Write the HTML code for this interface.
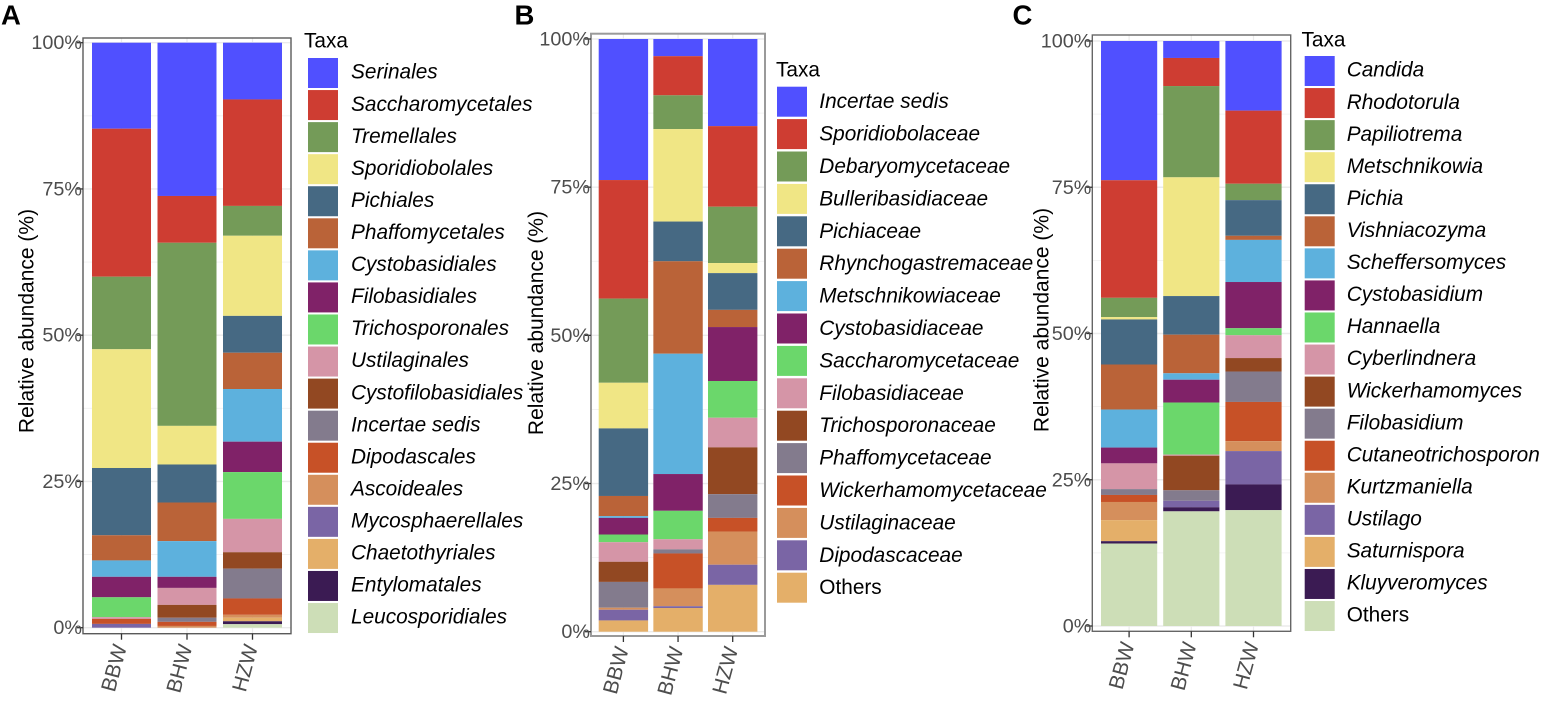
<!DOCTYPE html>
<html lang="en">
<head>
<meta charset="utf-8">
<title>Relative abundance of fungal taxa</title>
<style>
html,body{margin:0;padding:0;background:#fff;}
body{width:1547px;height:701px;overflow:hidden;}
svg{display:block;font-family:"Liberation Sans",Arial,sans-serif;filter:blur(0.35px);}
</style>
</head>
<body>
<svg id="figure" xmlns="http://www.w3.org/2000/svg" width="1547" height="701" viewBox="0 0 1547 701"></svg>
<script>
// ---- shared chart data ----
const categories = ['BBW', 'BHW', 'HZW'];
const yTickValues = [0, 25, 50, 75, 100];
const yTickLabels = ['0%', '25%', '50%', '75%', '100%'];
const yMinorValues = [12.5, 37.5, 62.5, 87.5];
const palette = ['#5050FF', '#CE3D32', '#749B58', '#F0E685', '#466983', '#BA6338', '#5DB1DD', '#802268', '#6BD76B', '#D595A7', '#924822', '#837B8D', '#C75127', '#D58F5C', '#7A65A5', '#E4AF69', '#3B1B53', '#CDDEB7'];

// ---- panel A (order) ----
const taxaA = ['Serinales', 'Saccharomycetales', 'Tremellales', 'Sporidiobolales', 'Pichiales', 'Phaffomycetales', 'Cystobasidiales', 'Filobasidiales', 'Trichosporonales', 'Ustilaginales', 'Cystofilobasidiales', 'Incertae sedis', 'Dipodascales', 'Ascoideales', 'Mycosphaerellales', 'Chaetothyriales', 'Entylomatales', 'Leucosporidiales'];
const valuesABBW = [14.7, 25.3, 12.4, 20.3, 11.5, 4.3, 2.8, 3.5, 3.4, 0.3, 0, 0, 0.85, 0, 0.65, 0, 0, 0];
const valuesABHW = [26.2, 8.0, 31.3, 6.6, 6.5, 6.6, 6.1, 1.9, 0, 2.9, 2.2, 0.7, 0.7, 0.3, 0, 0, 0, 0];
const valuesAHZW = [9.7, 18.2, 5.1, 13.7, 6.3, 6.2, 9.0, 5.2, 8.0, 5.7, 2.8, 5.1, 2.8, 0.5, 0, 0.6, 0.5, 0.6];

// ---- panel B (family) ----
const taxaB = ['Incertae sedis', 'Sporidiobolaceae', 'Debaryomycetaceae', 'Bulleribasidiaceae', 'Pichiaceae', 'Rhynchogastremaceae', 'Metschnikowiaceae', 'Cystobasidiaceae', 'Saccharomycetaceae', 'Filobasidiaceae', 'Trichosporonaceae', 'Phaffomycetaceae', 'Wickerhamomycetaceae', 'Ustilaginaceae', 'Dipodascaceae', 'Others'];
const valuesBBBW = [23.8, 20.0, 14.2, 7.7, 11.4, 3.4, 0.3, 2.8, 1.3, 3.3, 3.4, 4.35, 0, 0.35, 1.8, 1.9];
const valuesBBHW = [2.9, 6.6, 5.7, 15.6, 6.7, 15.6, 20.3, 6.2, 4.8, 1.7, 0, 0.7, 5.9, 3.0, 0.3, 4.0];
const valuesBHZW = [14.7, 13.6, 9.5, 1.7, 6.2, 2.9, 0, 9.1, 6.2, 5.0, 7.9, 4.0, 2.3, 5.6, 3.4, 7.9];

// ---- panel C (genus) ----
const taxaC = ['Candida', 'Rhodotorula', 'Papiliotrema', 'Metschnikowia', 'Pichia', 'Vishniacozyma', 'Scheffersomyces', 'Cystobasidium', 'Hannaella', 'Cyberlindnera', 'Wickerhamomyces', 'Filobasidium', 'Cutaneotrichosporon', 'Kurtzmaniella', 'Ustilago', 'Saturnispora', 'Kluyveromyces', 'Others'];
const valuesCBBW = [23.8, 20.1, 3.3, 0.4, 7.7, 7.7, 6.5, 2.7, 0, 4.4, 0, 1.0, 1.2, 3.1, 0, 3.6, 0.4, 14.1];
const valuesCBHW = [2.9, 4.8, 15.6, 20.3, 6.6, 6.6, 1.1, 3.9, 8.9, 0.2, 5.9, 1.8, 0, 0, 1.1, 0, 0.7, 19.6];
const valuesCHZW = [11.9, 12.5, 2.8, 0, 6.1, 0.7, 7.2, 7.9, 1.2, 3.9, 2.3, 5.2, 6.7, 1.7, 5.7, 0, 4.4, 19.8];

// ---- layout ----
const SVGNS = 'http://www.w3.org/2000/svg';
const root = document.getElementById('figure');

const panels = [
  { id: 'a', letter: 'A', letterX: 1, taxa: taxaA, series: [valuesABBW, valuesABHW, valuesAHZW],
    left: 83, right: 291, top: 38, bottom: 633.7, y100: 42.7, y0: 627.7,
    barStart: 92, barWidth: 59, barStep: 65.5, border: '#5a5a5a', borderWidth: 1.4,
    titleX: 33.5, titleY: 321,
    legendTitleX: 304, legendTitleY: 40.5, swatchX: 308, swatchY: 58, step: 32.06, labelX: 351, labelDy: 20.7 },
  { id: 'b', letter: 'B', letterX: 514.5, taxa: taxaB, series: [valuesBBBW, valuesBBHW, valuesBHZW],
    left: 591, right: 765, top: 33.7, bottom: 636, y100: 39, y0: 631.7,
    barStart: 598.7, barWidth: 49.4, barStep: 54.65, border: '#9a9a9a', borderWidth: 2,
    titleX: 543, titleY: 323,
    legendTitleX: 776, legendTitleY: 69.5, swatchX: 777, swatchY: 86.7, step: 32.4, labelX: 819.3, labelDy: 21.5 },
  { id: 'c', letter: 'C', letterX: 1012.5, taxa: taxaC, series: [valuesCBBW, valuesCBHW, valuesCHZW],
    left: 1092.3, right: 1290.7, top: 35, bottom: 631.3, y100: 41, y0: 626,
    barStart: 1101, barWidth: 56.2, barStep: 62.2, border: '#666666', borderWidth: 1.4,
    titleX: 1048.5, titleY: 320,
    legendTitleX: 1301.5, legendTitleY: 39.5, swatchX: 1304.7, swatchY: 56, step: 32.06, labelX: 1346.7, labelDy: 20.7 }
];

function yScale(panel, value) {
  return panel.y0 - (panel.y0 - panel.y100) * value / 100;
}
function xBandLeft(panel, index) {
  return panel.barStart + panel.barStep * index;
}
function xBandCenter(panel, index) {
  return xBandLeft(panel, index) + panel.barWidth / 2;
}
function make(tag, attrs, parent) {
  const el = document.createElementNS(SVGNS, tag);
  for (const k in attrs) el.setAttribute(k, attrs[k]);
  parent.appendChild(el);
  return el;
}

panels.forEach(function (panel) {
  const g = make('g', {}, root);
  
  

  // panel letter
  const letter = make('text', { x: panel.letterX, y: 24.5, 'font-size': 27.5, 'font-weight': 'bold', fill: '#000' }, g);
  
  
  letter.textContent = panel.letter;

  // gridlines
  yMinorValues.forEach(function (v) {
    const y = yScale(panel, v);
    const line = make('line', { x1: panel.left, x2: panel.right, y1: y, y2: y, stroke: '#f0f0f0', 'stroke-width': 0.8 }, g);
    
    
  });
  yTickValues.forEach(function (v) {
    const y = yScale(panel, v);
    const line = make('line', { x1: panel.left, x2: panel.right, y1: y, y2: y, stroke: '#ebebeb', 'stroke-width': 1.4 }, g);
    
    
  });
  categories.forEach(function (c, i) {
    const x = xBandCenter(panel, i);
    const line = make('line', { x1: x, x2: x, y1: panel.top, y2: panel.bottom, stroke: '#ebebeb', 'stroke-width': 1.2 }, g);
    
    
  });

  // stacked bars
  categories.forEach(function (c, i) {
    const values = panel.series[i];
    let cumulative = values.reduce(function (a, b) { return a + b; }, 0);
    values.forEach(function (v, t) {
      if (v <= 0) return;
      const yTop = yScale(panel, cumulative);
      cumulative -= v;
      const yBottom = yScale(panel, cumulative);
      const seg = make('rect', { x: xBandLeft(panel, i), y: yTop, width: panel.barWidth, height: yBottom - yTop, fill: palette[t] }, g);
      
      
    });
  });

  // panel border
  const border = make('rect', { x: panel.left, y: panel.top, width: panel.right - panel.left, height: panel.bottom - panel.top, fill: 'none', stroke: panel.border, 'stroke-width': panel.borderWidth }, g);
  
  

  // y axis
  yTickValues.forEach(function (v, i) {
    const y = yScale(panel, v);
    const tick = make('line', { x1: panel.left - 6, x2: panel.left, y1: y, y2: y, stroke: '#333', 'stroke-width': 1.3 }, g);
    
    
    const label = make('text', { x: panel.left - 1, y: y + 6.5, 'text-anchor': 'end', 'font-size': 19.8, fill: '#4d4d4d' }, g);
    
    
    label.textContent = yTickLabels[i];
  });
  const yTitle = make('text', { transform: 'translate(' + panel.titleX + ' ' + panel.titleY + ') rotate(-90)', 'text-anchor': 'middle', 'font-size': 21, fill: '#000' }, g);
  
  
  yTitle.textContent = 'Relative abundance (%)';

  // x axis
  categories.forEach(function (c, i) {
    const x = xBandCenter(panel, i);
    const tick = make('line', { x1: x, x2: x, y1: panel.bottom, y2: panel.bottom + 6, stroke: '#333', 'stroke-width': 1.3 }, g);
    
    
    const label = make('text', { transform: 'translate(' + (x + 5.5) + ' ' + (panel.bottom + 13) + ') rotate(-75)', 'text-anchor': 'end', 'font-size': 21, fill: '#4d4d4d' }, g);
    
    
    label.textContent = c;
  });

  // legend
  const legend = make('g', {}, g);
  
  
  const legendTitle = make('text', { x: panel.legendTitleX, y: panel.legendTitleY + 7, 'font-size': 20.8, fill: '#000' }, legend);
  
  
  legendTitle.textContent = 'Taxa';
  panel.taxa.forEach(function (name, t) {
    const top = panel.swatchY + panel.step * t;
    const swatch = make('rect', { x: panel.swatchX, y: top, width: 30, height: 30, fill: palette[t] }, legend);
    
    
    const label = make('text', { x: panel.labelX, y: top + panel.labelDy, 'font-size': 20.8, 'font-style': name === 'Others' ? 'normal' : 'italic', fill: '#000' }, legend);
    
    
    label.textContent = name;
  });
});
</script>
</body>
</html>
